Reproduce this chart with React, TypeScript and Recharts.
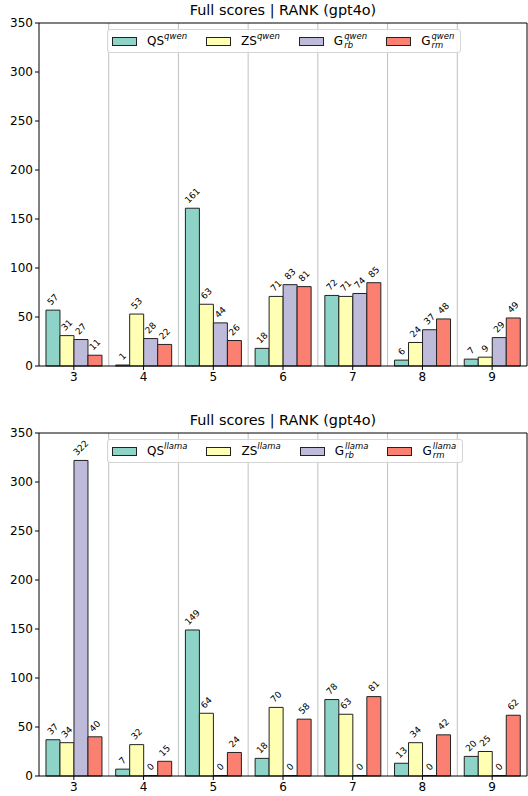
import React from 'react';
import { BarChart, Bar, XAxis, YAxis, CartesianGrid, Legend, LabelList, ReferenceLine } from 'recharts';

const categories = ['3', '4', '5', '6', '7', '8', '9'];
const yTicks = [0, 50, 100, 150, 200, 250, 300, 350];

const qwenQS = [57, 1, 161, 18, 72, 6, 7];
const qwenZS = [31, 53, 63, 71, 71, 24, 9];
const qwenGrb = [27, 28, 44, 83, 74, 37, 29];
const qwenGrm = [11, 22, 26, 81, 85, 48, 49];

const llamaQS = [37, 7, 149, 18, 78, 13, 20];
const llamaZS = [34, 32, 64, 70, 63, 34, 25];
const llamaGrb = [322, 0, 0, 0, 0, 0, 0];
const llamaGrm = [40, 15, 24, 58, 81, 42, 62];

const COLORS = ['#8dd3c7', '#ffffb3', '#bebada', '#fb8072'];
const FONT = '"DejaVu Sans", sans-serif';

const RotLabel = (props: any) => {
    const { x, y, width, value } = props;
    const s = String(value);
    const cx = x + width / 2;
    const tw = s.length * 5.7;
    const half = (tw + 10) / (2 * Math.SQRT2);
    const cy = y - 3 - half;
    return (
        <text x={cx} y={cy} transform={`rotate(-45 ${cx} ${cy})`} textAnchor="middle" dominantBaseline="central"
            fontSize={9} fill="#000" fontFamily={FONT}>{s}</text>
    );
};

const LegendBox = ({ model }: { model: string }) => {
    const sup = { fontSize: 8.5, fontStyle: 'italic' as const };
    const items = [
        { base: 'QS', sub: null },
        { base: 'ZS', sub: null },
        { base: 'G', sub: 'rb' },
        { base: 'G', sub: 'rm' },
    ];
    return (
        <div style={{
            display: 'flex', alignItems: 'center', height: 22, padding: '0 0 0 4px',
            border: '1px solid #d5d5d5', borderRadius: 3, background: 'rgba(255,255,255,0.85)',
            fontFamily: FONT, fontSize: 12, color: '#000',
        }}>
            {items.map((it, i) => (
                <div key={i} style={{ display: 'flex', alignItems: 'center', marginRight: i < 3 ? 19 : 6 }}>
                    <span style={{ width: 23, height: 7, background: COLORS[i], border: '1px solid #222', marginRight: 10 }} />
                    <span style={{ display: 'inline-flex', alignItems: 'center' }}>
                        {it.base}
                        {it.sub ? (
                            <span style={{ display: 'inline-flex', flexDirection: 'column', lineHeight: '9px', marginLeft: 1 }}>
                                <span style={sup}>{model}</span>
                                <span style={sup}>{it.sub}</span>
                            </span>
                        ) : (
                            <span style={{ ...sup, position: 'relative', top: -5 }}>{model}</span>
                        )}
                    </span>
                </div>
            ))}
        </div>
    );
};

function Panel({ top, model, qs, zs, grb, grm }: any) {
    const data = categories.map((c, i) => ({ cat: c, qs: qs[i], zs: zs[i], grb: grb[i], grm: grm[i] }));
    const keys = ['qs', 'zs', 'grb', 'grm'];
    return (
        <div style={{ position: 'absolute', left: 0, top, width: 528, height: 400 }}>
            <div style={{ position: 'absolute', left: 39, width: 488, top: 2, textAlign: 'center', fontFamily: FONT, fontSize: 14.4, color: '#000' }}>
                Full scores | RANK (gpt4o)
            </div>
            <BarChart width={528} height={400} data={data} margin={{ top: 23, right: 0, left: 0, bottom: 10 }}
                barCategoryGap="10%" barGap={0}>
                <CartesianGrid horizontal={false} stroke="#b0b0b0" strokeWidth={0.8}
                    verticalCoordinatesGenerator={({ offset }: any) => {
                        const step = offset.width / categories.length;
                        return categories.slice(1).map((_, i) => offset.left + (i + 1) * step);
                    }} />
                <XAxis dataKey="cat" height={24} tickSize={4} tickMargin={2} axisLine={{ stroke: '#000' }}
                    tickLine={{ stroke: '#000' }} tick={{ fill: '#000', fontSize: 12, fontFamily: FONT }} />
                <YAxis domain={[0, 350]} ticks={yTicks} width={39} tickSize={4} tickMargin={2} axisLine={{ stroke: '#000' }}
                    tickLine={{ stroke: '#000' }} tick={{ fill: '#000', fontSize: 12, fontFamily: FONT }} />
                <YAxis yAxisId="right" orientation="right" domain={[0, 350]} width={1} tick={false} tickLine={false}
                    axisLine={{ stroke: '#000' }} />
                <ReferenceLine y={350} stroke="#000" />
                <Legend layout="horizontal" verticalAlign="middle" align="center" content={() => <LegendBox model={model} />}
                    wrapperStyle={{ position: 'absolute', left: 107, top: 29, width: 'auto', height: 'auto' }} />
                {keys.map((k, i) => (
                    <Bar key={k} dataKey={k} fill={COLORS[i]} stroke="#222" strokeWidth={1} isAnimationActive={false}
                        minPointSize={(v: number) => (v === 0 ? 0.5 : 0)}>
                        <LabelList dataKey={k} content={RotLabel} />
                    </Bar>
                ))}
            </BarChart>
        </div>
    );
}

export default function App() {
    return (
        <div style={{ position: 'absolute', left: 0, top: 0, width: 528, height: 796, background: '#fff' }}>
            <Panel top={0} model="qwen" qs={qwenQS} zs={qwenZS} grb={qwenGrb} grm={qwenGrm} />
            <Panel top={410} model="llama" qs={llamaQS} zs={llamaZS} grb={llamaGrb} grm={llamaGrm} />
        </div>
    );
}
